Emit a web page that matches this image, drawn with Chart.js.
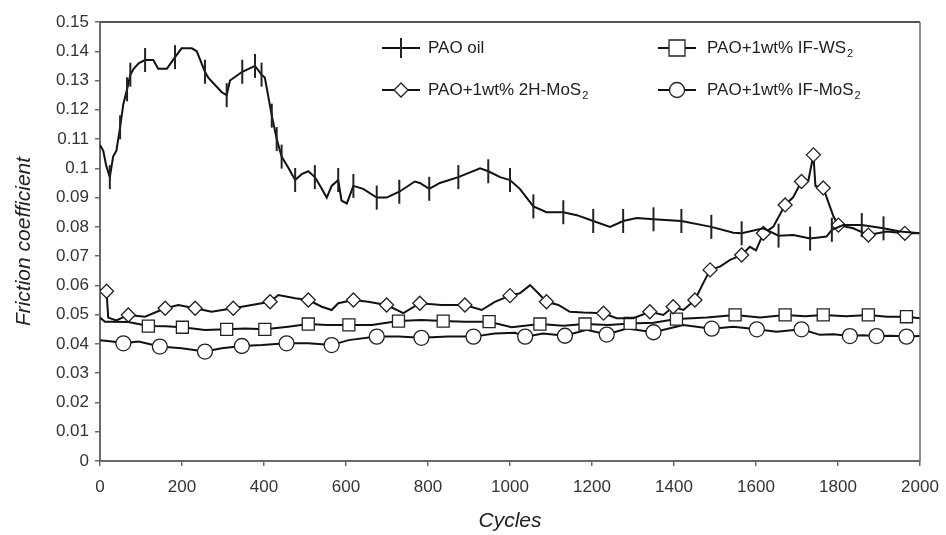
<!DOCTYPE html>
<html>
<head>
<meta charset="utf-8">
<script src="https://cdn.jsdelivr.net/npm/chart.js@4.4.1/dist/chart.umd.min.js"></script>
<style>
  html, body { margin: 0; padding: 0; background: #fff; }
  #wrap { width: 946px; height: 535px; }
</style>
</head>
<body>
<div id="wrap"><canvas id="chart" width="946" height="535"></canvas></div>
<script>
// cycles / friction values
const paoCycles = [0,8,15,24,32,40,49,57,66,74,82,95,110,130,142,163,183,199,224,236,256,264,297,309,317,347,378,394,402,419,431,443,460,476,492,508,524,537,553,565,581,589,602,618,642,675,699,730,768,780,803,829,874,927,947,976,1000,1024,1057,1089,1130,1163,1203,1244,1276,1309,1350,1418,1491,1545,1565,1618,1655,1691,1732,1772,1785,1813,1858,1911,1951,2000]
const paoValues = [0.108,0.106,0.101,0.097,0.104,0.106,0.114,0.122,0.127,0.132,0.134,0.136,0.137,0.137,0.134,0.134,0.138,0.141,0.141,0.140,0.133,0.131,0.126,0.125,0.130,0.133,0.135,0.132,0.131,0.118,0.110,0.104,0.100,0.096,0.098,0.099,0.097,0.094,0.090,0.094,0.096,0.089,0.088,0.094,0.093,0.090,0.090,0.092,0.0955,0.095,0.093,0.095,0.097,0.100,0.099,0.097,0.096,0.093,0.087,0.085,0.085,0.084,0.082,0.080,0.082,0.083,0.0826,0.082,0.080,0.078,0.0778,0.0795,0.077,0.0772,0.076,0.0767,0.079,0.0806,0.0806,0.0795,0.0784,0.0778]
const paoMarkers = [24,49,66,74,110,183,256,309,347,378,394,419,431,443,476,524,581,618,675,730,803,874,947,1000,1057,1130,1203,1276,1350,1418,1491,1565,1655,1732,1785,1858,1911]

const h2Cycles = [0,16,20,40,69,110,159,191,232,272,325,370,415,435,476,508,541,565,581,618,654,699,740,780,833,890,931,963,1000,1024,1049,1069,1089,1118,1146,1179,1228,1260,1301,1341,1374,1398,1423,1451,1471,1488,1512,1537,1565,1585,1600,1618,1642,1671,1690,1711,1728,1740,1745,1764,1789,1801,1837,1874,1919,1963,2000]
const h2Values = [0.0585,0.058,0.049,0.048,0.0499,0.0493,0.0522,0.0533,0.0522,0.051,0.0522,0.0533,0.0544,0.0567,0.0556,0.055,0.0527,0.0516,0.0539,0.055,0.0544,0.0533,0.0505,0.0539,0.0533,0.0533,0.0516,0.0544,0.0565,0.0573,0.0601,0.0573,0.0544,0.0533,0.051,0.0507,0.0505,0.0488,0.0488,0.051,0.0499,0.0527,0.0516,0.055,0.0607,0.0653,0.0664,0.0687,0.0704,0.0732,0.072,0.0778,0.080,0.0875,0.090,0.0955,0.096,0.1046,0.094,0.0933,0.0835,0.0806,0.0795,0.0772,0.0784,0.0778,0.0778]
const h2Markers = [16,69,159,232,325,415,508,618,699,780,890,1000,1089,1228,1341,1398,1451,1488,1565,1618,1671,1711,1740,1764,1801,1874,1963]

const ws2Cycles = [0,12,28,69,118,160,201,256,309,354,402,459,508,553,607,663,728,784,837,890,949,1004,1073,1130,1183,1240,1293,1350,1406,1480,1549,1610,1671,1720,1764,1820,1874,1920,1967,2000]
const ws2Values = [0.049,0.0476,0.0476,0.0475,0.0461,0.046,0.0457,0.0448,0.045,0.0453,0.045,0.0459,0.0468,0.0465,0.0465,0.0465,0.0478,0.0482,0.0478,0.0476,0.0476,0.0457,0.0468,0.0462,0.0468,0.0465,0.047,0.0472,0.0485,0.049,0.0499,0.049,0.0499,0.0495,0.0499,0.0495,0.0499,0.0493,0.0493,0.0488]
const ws2Markers = [118,201,309,402,508,607,728,837,949,1073,1183,1293,1406,1549,1671,1764,1874,1967]

const ifmCycles = [0,30,57,94,146,199,256,297,346,395,455,508,565,606,675,728,784,849,911,963,1012,1037,1081,1134,1187,1236,1285,1350,1423,1492,1545,1602,1650,1711,1756,1789,1829,1860,1894,1930,1967,2000]
const ifmValues = [0.0413,0.0408,0.0402,0.0408,0.0391,0.0385,0.0374,0.0385,0.0393,0.0396,0.0402,0.0402,0.0396,0.0413,0.0425,0.0425,0.0421,0.0425,0.0425,0.0436,0.0438,0.0425,0.0436,0.0428,0.0448,0.0432,0.0453,0.044,0.0465,0.0452,0.0459,0.045,0.0442,0.045,0.0431,0.0433,0.0427,0.043,0.0427,0.0428,0.0425,0.0427]
const ifmMarkers = [57,146,256,346,455,565,675,784,911,1037,1134,1236,1350,1492,1602,1711,1829,1894,1967]

// legend labels: [main text, subscript]
const legendLabels = [["PAO oil", ""], ["PAO+1wt% 2H-MoS", "2"], ["PAO+1wt% IF-WS", "2"], ["PAO+1wt% IF-MoS", "2"]]
const xTicks = [0,200,400,600,800,1000,1200,1400,1600,1800,2000]

const FONT = "'Liberation Sans', Arial, sans-serif"
const AXIS = '#6a6a6a'

const toPoints = (xs, ys) => xs.map((x, i) => ({ x: x, y: ys[i] }))
const radiusFor = (marks, r) => {
    const s = new Set(marks)
    return ctx => (ctx.raw && s.has(ctx.raw.x)) ? r : 0
}

const series = [
    { label: legendLabels[0][0], data: toPoints(paoCycles, paoValues), pointStyle: 'line', rotation: 90, pointRadius: radiusFor(paoMarkers, 12), pointBorderWidth: 2 },
    { label: legendLabels[1][0], data: toPoints(h2Cycles, h2Values), pointStyle: 'rectRot', rotation: 0, pointRadius: radiusFor(h2Markers, 7), pointBorderWidth: 1.3 },
    { label: legendLabels[2][0], data: toPoints(ws2Cycles, ws2Values), pointStyle: 'rect', rotation: 0, pointRadius: radiusFor(ws2Markers, 8.5), pointBorderWidth: 1.3 },
    { label: legendLabels[3][0], data: toPoints(ifmCycles, ifmValues), pointStyle: 'circle', rotation: 0, pointRadius: radiusFor(ifmMarkers, 7.5), pointBorderWidth: 1.3 },
]

const datasets = series.map(s => Object.assign({
    borderColor: '#111',
    borderWidth: 2,
    backgroundColor: '#fff',
    pointBackgroundColor: '#fff',
    pointBorderColor: '#222',
    pointHoverRadius: 0,
    tension: 0,
    fill: false,
}, s))

// box top/right edges
const framePlugin = {
    id: 'frame',
    afterDraw(chart) {
        const { ctx, chartArea: a } = chart
        ctx.save()
        ctx.strokeStyle = '#555'
        ctx.lineWidth = 2
        ctx.beginPath()
        ctx.moveTo(a.left, a.top)
        ctx.lineTo(a.right, a.top)
        ctx.stroke()
        ctx.strokeStyle = AXIS
        ctx.lineWidth = 1.5
        ctx.beginPath()
        ctx.moveTo(a.right, a.top)
        ctx.lineTo(a.right, a.bottom)
        ctx.stroke()
        ctx.restore()
    }
}

// 2x2 legend inside the plot
const legendPlugin = {
    id: 'boxLegend',
    afterDraw(chart) {
        const ctx = chart.ctx
        const spots = [[382, 48], [382, 90], [658, 48], [658, 90]]
        ctx.save()
        spots.forEach((p, i) => {
            const [x, y] = p
            const w = 38
            const cx = x + w / 2
            ctx.strokeStyle = '#111'
            ctx.lineWidth = 2
            ctx.beginPath()
            ctx.moveTo(x, y)
            ctx.lineTo(x + w, y)
            ctx.stroke()
            ctx.fillStyle = '#fff'
            ctx.lineWidth = 1.3
            ctx.strokeStyle = '#222'
            ctx.beginPath()
            if (i === 0) {
                ctx.lineWidth = 2
                ctx.moveTo(cx, y - 10)
                ctx.lineTo(cx, y + 10)
                ctx.stroke()
            } else if (i === 1) {
                ctx.moveTo(cx, y - 7); ctx.lineTo(cx + 7, y); ctx.lineTo(cx, y + 7); ctx.lineTo(cx - 7, y); ctx.closePath()
                ctx.fill(); ctx.stroke()
            } else if (i === 2) {
                ctx.rect(cx - 8, y - 8, 16, 16)
                ctx.fill(); ctx.stroke()
            } else {
                ctx.arc(cx, y, 7.5, 0, Math.PI * 2)
                ctx.fill(); ctx.stroke()
            }
            const tx = i < 2 ? 428 : 707
            ctx.fillStyle = '#222'
            ctx.textBaseline = 'middle'
            ctx.textAlign = 'left'
            ctx.font = '17px ' + FONT
            ctx.fillText(legendLabels[i][0], tx, y)
            if (legendLabels[i][1]) {
                const tw = ctx.measureText(legendLabels[i][0]).width
                ctx.font = '11px ' + FONT
                ctx.fillText(legendLabels[i][1], tx + tw + 1, y + 6)
            }
        })
        ctx.restore()
    }
}

new Chart(document.getElementById('chart'), {
    type: 'line',
    data: { datasets },
    plugins: [framePlugin, legendPlugin],
    options: {
        responsive: false,
        animation: false,
        events: [],
        layout: { padding: { top: 22, right: 26, left: 0, bottom: 0 } },
        plugins: { legend: { display: false }, tooltip: { enabled: false } },
        scales: {
            x: {
                type: 'linear',
                min: 0,
                max: 2000,
                afterBuildTicks: s => { s.ticks = xTicks.map(v => ({ value: v })) },
                afterFit: s => { s.height = 74; s.paddingLeft = 0; s.paddingRight = 0 },
                grid: { drawOnChartArea: false, drawTicks: true, tickLength: 5, color: AXIS, lineWidth: 1.5 },
                border: { color: AXIS, width: 2 },
                ticks: { color: '#333', font: { family: FONT, size: 17 }, padding: 11, maxRotation: 0, callback: v => String(v) },
                title: { display: true, text: 'Cycles', color: '#222', font: { family: FONT, size: 21, style: 'italic' }, padding: { top: 0, bottom: 1 } }
            },
            y: {
                min: 0,
                max: 0.15,
                afterFit: s => { s.width = 100; s.paddingTop = 0; s.paddingBottom = 0 },
                grid: { drawOnChartArea: false, drawTicks: true, tickLength: 5, color: AXIS, lineWidth: 1.5 },
                border: { color: AXIS, width: 2 },
                ticks: { stepSize: 0.01, color: '#333', font: { family: FONT, size: 17 }, padding: 6, callback: v => String(+v.toFixed(2)) },
                title: { display: true, text: 'Friction coefficient', color: '#222', font: { family: FONT, size: 21, style: 'italic' }, padding: { top: 12, bottom: 0 } }
            }
        }
    }
})
</script>
</body>
</html>
